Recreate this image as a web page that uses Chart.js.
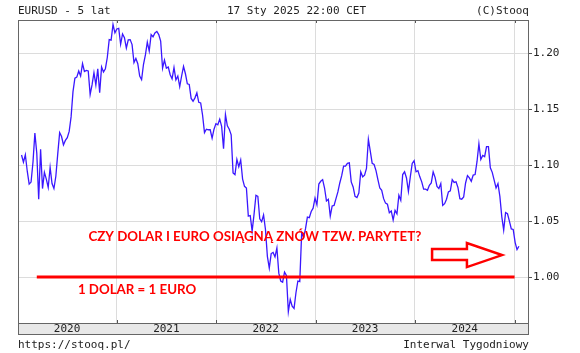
<!DOCTYPE html>
<html>
<head>
<meta charset="utf-8">
<script src="https://cdn.jsdelivr.net/npm/chart.js@4.4.1/dist/chart.umd.min.js"></script>
<style>
  body { margin: 0; background: #fff; }
  #wrap { position: relative; width: 580px; height: 353px; }
  .txt { position: absolute; font: 11px "DejaVu Sans Mono", monospace; color: #222; line-height: 13px; white-space: nowrap; }
</style>
</head>
<body>
<div id="wrap">
  <canvas id="chart" width="580" height="353"></canvas>
  <div class="txt" style="left:18px; top:4px;">EURUSD - 5 lat</div>
  <div class="txt" style="left:227px; top:4px;">17 Sty 2025 22:00 CET</div>
  <div class="txt" style="right:51px; top:4px;">(C)Stooq</div>
  <div class="txt" style="left:18px; top:338px;">https://stooq.pl/</div>
  <div class="txt" style="right:51px; top:338px;">Interwal Tygodniowy</div>
</div>
<script>
// weekly closes EURUSD, first week 17 Jan 2020
const firstWeek = Date.UTC(2020, 0, 17);
const close2020 = [1.1090, 1.1025, 1.1092, 1.0945, 1.0830, 1.0848, 1.1025, 1.1285, 1.1105, 1.0695,
  1.1140, 1.0790, 1.0935, 1.0875, 1.0800, 1.0980, 1.0835, 1.0790, 1.0900, 1.1100,
  1.1290, 1.1255, 1.1180, 1.1220, 1.1245, 1.1300, 1.1430, 1.1655, 1.1775, 1.1785,
  1.1840, 1.1795, 1.1905, 1.1835, 1.1845, 1.1840, 1.1630, 1.1715, 1.1825, 1.1715,
  1.1860, 1.1645, 1.1875, 1.1830, 1.1860, 1.1960, 1.2120, 1.2115, 1.2255, 1.2180];
const close2021 = [1.2215, 1.2220, 1.2078, 1.2170, 1.2137, 1.2045, 1.2118, 1.2120, 1.2075,
  1.1915, 1.1952, 1.1905, 1.1795, 1.1762, 1.1900, 1.1983, 1.2097, 1.2018,
  1.2165, 1.2145, 1.2180, 1.2193, 1.2165, 1.2107, 1.1865, 1.1937,
  1.1865, 1.1875, 1.1807, 1.1770, 1.1870, 1.1760, 1.1795, 1.1700, 1.1795,
  1.1880, 1.1815, 1.1725, 1.1720, 1.1595, 1.1570, 1.1600, 1.1645, 1.1560,
  1.1555, 1.1445, 1.1290, 1.1320, 1.1315, 1.1315, 1.1240, 1.1320, 1.1370];
const close2022 = [1.1360, 1.1410, 1.1345, 1.1145, 1.1450, 1.1350, 1.1320, 1.1270,
  1.0930, 1.0915, 1.1050, 1.0985, 1.1045, 1.0875, 1.0810, 1.0795, 1.0545,
  1.0550, 1.0410, 1.0560, 1.0730, 1.0720, 1.0520, 1.0495, 1.0555,
  1.0425, 1.0185, 1.0080, 1.0210, 1.0220, 1.0180, 1.0260, 1.0035, 0.9965,
  0.9955, 1.0045, 1.0015, 0.9690, 0.9800, 0.9740, 0.9720, 0.9860, 0.9965,
  0.9960, 1.0395, 1.0355, 1.0430, 1.0535, 1.0530, 1.0585, 1.0615, 1.0705];
const close2023 = [1.0645, 1.0830, 1.0855, 1.0870, 1.0795, 1.0680, 1.0695, 1.0545,
  1.0635, 1.0640, 1.0700, 1.0760, 1.0840, 1.0905, 1.0990, 1.0990, 1.1015,
  1.1020, 1.0850, 1.0805, 1.0720, 1.0710, 1.0750, 1.0940, 1.0895, 1.0910,
  1.0970, 1.1230, 1.1125, 1.1015, 1.1005, 1.0950, 1.0870, 1.0795,
  1.0775, 1.0700, 1.0660, 1.0650, 1.0575, 1.0590, 1.0510, 1.0595, 1.0565,
  1.0730, 1.0685, 1.0915, 1.0940, 1.0885, 1.0765, 1.0895, 1.1015, 1.1040];
const close2024 = [1.0940, 1.0950, 1.0895, 1.0850, 1.0785, 1.0785, 1.0775, 1.0820,
  1.0840, 1.0940, 1.0890, 1.0810, 1.0790, 1.0835, 1.0640, 1.0655, 1.0695,
  1.0760, 1.0770, 1.0870, 1.0845, 1.0850, 1.0800, 1.0700, 1.0695, 1.0715,
  1.0840, 1.0905, 1.0885, 1.0855, 1.0910, 1.0915, 1.1030, 1.1190, 1.1050,
  1.1085, 1.1075, 1.1165, 1.1165, 1.0975, 1.0935, 1.0865, 1.0795,
  1.0835, 1.0720, 1.0540, 1.0420, 1.0575, 1.0565, 1.0500, 1.0430, 1.0425];
const close2025 = [1.0310, 1.0245, 1.0275];

const years = ['2020', '2021', '2022', '2023', '2024'];
const yTicks = [1.00, 1.05, 1.10, 1.15, 1.20];

const DAY = 864e5;
const closes = [].concat(close2020, close2021, close2022, close2023, close2024, close2025);
const points = closes.map((v, i) => ({ x: i * 7, y: v }));

const dayOf = (y, m, d) => (Date.UTC(y, m, d) - firstWeek) / DAY;
const yearStarts = years.map(y => dayOf(+y + 1, 0, 1));
const yearMids = years.map(y => dayOf(+y, 6, 2));

const notes = {
  question: { text: 'CZY DOLAR I EURO OSIĄGNĄ ZNÓW TZW. PARYTET?', x: 857, y: 1.0357 },
  parity: { text: '1 DOLAR = 1 EURO', x: 207, y: 0.9888, from: 56, to: dayOf(2025, 0, 1), level: 1.00 },
  arrow: [[1508, 1.0250], [1636, 1.0250], [1636, 1.0304], [1765, 1.0196], [1636, 1.0089], [1636, 1.0152], [1508, 1.0152]]
};

const framePlugin = {
  id: 'frame',
  afterDatasetsDraw(chart) {
    const { ctx, chartArea: a, scales: { x, y } } = chart;
    ctx.save();
    // parity line
    ctx.strokeStyle = '#ff0000';
    ctx.lineWidth = 3;
    ctx.beginPath();
    ctx.moveTo(x.getPixelForValue(notes.parity.from), y.getPixelForValue(notes.parity.level));
    ctx.lineTo(x.getPixelForValue(notes.parity.to), y.getPixelForValue(notes.parity.level));
    ctx.stroke();
    // arrow
    ctx.lineWidth = 2.5;
    ctx.lineJoin = 'miter';
    ctx.beginPath();
    notes.arrow.forEach((p, i) => {
      const px = x.getPixelForValue(p[0]), py = y.getPixelForValue(p[1]);
      if (i === 0) ctx.moveTo(px, py); else ctx.lineTo(px, py);
    });
    ctx.closePath();
    ctx.stroke();
    // texts
    ctx.fillStyle = '#ff0000';
    ctx.font = 'bold 13.3px Lato';
    ctx.textBaseline = 'middle';
    ctx.textAlign = 'center';
    ctx.fillText(notes.question.text, x.getPixelForValue(notes.question.x), y.getPixelForValue(notes.question.y));
    ctx.textAlign = 'left';
    ctx.fillText(notes.parity.text, x.getPixelForValue(notes.parity.x), y.getPixelForValue(notes.parity.y));
    // year tick marks top/bottom
    ctx.strokeStyle = '#555';
    ctx.lineWidth = 1;
    yearStarts.forEach(v => {
      const px = Math.round(x.getPixelForValue(v)) + 0.5;
      ctx.beginPath();
      ctx.moveTo(px, a.top); ctx.lineTo(px, a.top + 3);
      ctx.moveTo(px, a.bottom); ctx.lineTo(px, a.bottom - 3);
      ctx.stroke();
    });
    // frame + date band
    ctx.strokeStyle = '#666';
    ctx.lineWidth = 1;
    ctx.strokeRect(a.left + 0.5, a.top + 0.5, a.right - a.left - 1, a.bottom - a.top);
    ctx.strokeRect(a.left + 0.5, a.bottom + 0.5, a.right - a.left - 1, x.bottom - a.bottom - 1);
    ctx.restore();
  }
};

new Chart(document.getElementById('chart'), {
  type: 'line',
  data: {
    datasets: [{
      data: points,
      borderColor: '#3a17ff',
      borderWidth: 1.3,
      pointRadius: 0,
      tension: 0
    }]
  },
  options: {
    responsive: false,
    animation: false,
    devicePixelRatio: 1,
    layout: { padding: { left: 18, right: 0, top: 20, bottom: 18 } },
    plugins: { legend: { display: false }, tooltip: { enabled: false } },
    scales: {
      x: {
        type: 'linear',
        min: -13,
        max: 1864,
        backgroundColor: '#e8e8e8',
        afterFit(scale) { scale.height = 12; },
        afterBuildTicks(scale) {
          scale.ticks = yearStarts.concat(yearMids).map(v => ({ value: v }));
        },
        border: { display: false },
        grid: {
          drawTicks: false,
          color: c => (c.tick && yearStarts.includes(c.tick.value)) ? '#dcdcdc' : 'rgba(0,0,0,0)',
          lineWidth: 1
        },
        ticks: {
          autoSkip: false,
          maxRotation: 0,
          padding: 0,
          color: '#222',
          font: { family: 'DejaVu Sans Mono', size: 11 },
          callback: v => {
            const k = yearMids.indexOf(v);
            return k >= 0 ? years[k] : '';
          }
        }
      },
      y: {
        position: 'right',
        min: 0.959,
        max: 1.2295,
        afterFit(scale) { scale.width = 51; },
        afterBuildTicks(scale) {
          scale.ticks = yTicks.map(v => ({ value: v }));
        },
        border: { display: false },
        grid: { color: '#dcdcdc', lineWidth: 1, tickLength: 3, tickColor: '#555' },
        ticks: {
          padding: 1,
          color: '#222',
          font: { family: 'DejaVu Sans Mono', size: 11 },
          callback: v => v.toFixed(2)
        }
      }
    }
  },
  plugins: [framePlugin]
});
</script>
</body>
</html>
